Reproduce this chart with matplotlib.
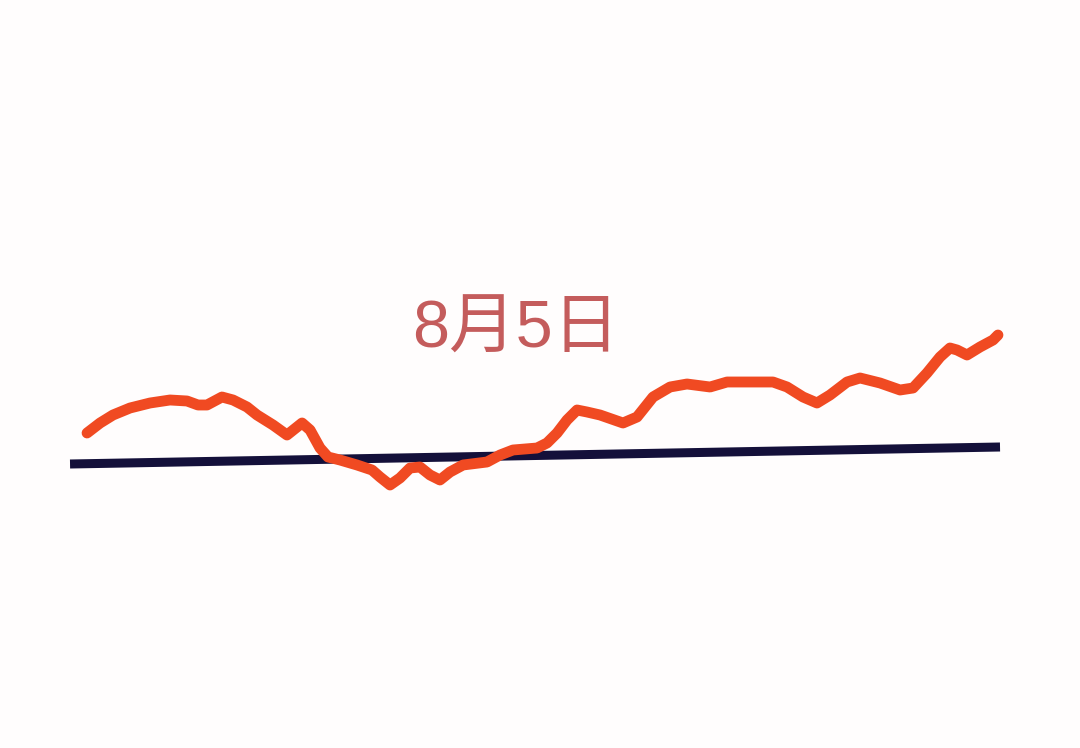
import matplotlib
matplotlib.use("Agg")
import matplotlib.pyplot as plt

# Orange series (time index 0..100, value units)
t_series = [1.83, 3.23, 4.62, 6.45, 8.60, 10.75, 12.58, 13.76, 14.73, 16.34, 17.53,
            19.03, 20.11, 21.83, 23.33, 24.95, 25.81, 26.88, 27.74, 29.03, 30.86,
            32.47, 33.33, 34.41, 35.48, 36.56, 37.63, 38.71, 39.78, 40.86, 42.26,
            44.84, 46.24, 47.63, 50.22, 51.29, 52.37, 53.44, 54.52, 55.59, 56.99,
            59.46, 60.97, 62.69, 64.52, 66.34, 68.82, 70.65, 73.12, 75.59, 77.10,
            78.82, 80.32, 81.72, 83.55, 84.95, 87.10, 89.25, 90.65, 92.15, 93.55,
            94.62, 95.38, 96.45, 97.85, 99.25, 99.78]
v_series = [3.1, 4.1, 4.9, 5.6, 6.1, 6.4, 6.3, 5.9, 5.9, 6.7, 6.4,
            5.7, 4.9, 3.9, 2.9, 4.1, 3.4, 1.6, 0.7, 0.4, -0.1,
            -0.6, -1.3, -2.1, -1.4, -0.4, -0.3, -1.1, -1.6, -0.8, -0.1,
            0.2, 0.9, 1.4, 1.6, 2.1, 3.1, 4.4, 5.4, 5.2, 4.9,
            4.1, 4.7, 6.7, 7.7, 8.0, 7.7, 8.2, 8.2, 8.2, 7.7,
            6.7, 6.1, 6.9, 8.2, 8.6, 8.1, 7.4, 7.6, 9.1, 10.7,
            11.6, 11.4, 10.9, 11.7, 12.4, 12.9]

# Trend (navy) line
t_trend = [0, 100]
v_trend = [0.0, 1.7]

label = "8月5日"

fig = plt.figure(figsize=(10.8, 7.48), dpi=100)
fig.patch.set_facecolor("#fffdfd")
ax = fig.add_axes([0, 0, 1, 1])
ax.set_facecolor("#fffdfd")
ax.set_axis_off()

ax.plot(t_trend, v_trend, color="#14103a", linewidth=6.5, solid_capstyle="butt", zorder=2)
ax.plot(t_series, v_series, color="#f04a22", linewidth=7.8,
        solid_capstyle="round", solid_joinstyle="round", zorder=3)

ax.set_xlim(-7.53, 108.6)
ax.set_ylim(-28.4, 46.4)

ax.text(47.9, 13.3, label, fontsize=48, color="#c45c5c", ha="center", va="center",
        family=["Liberation Sans", "Noto Sans CJK SC", "DejaVu Sans"])

fig.savefig("out.png", dpi=100, facecolor=fig.get_facecolor())
